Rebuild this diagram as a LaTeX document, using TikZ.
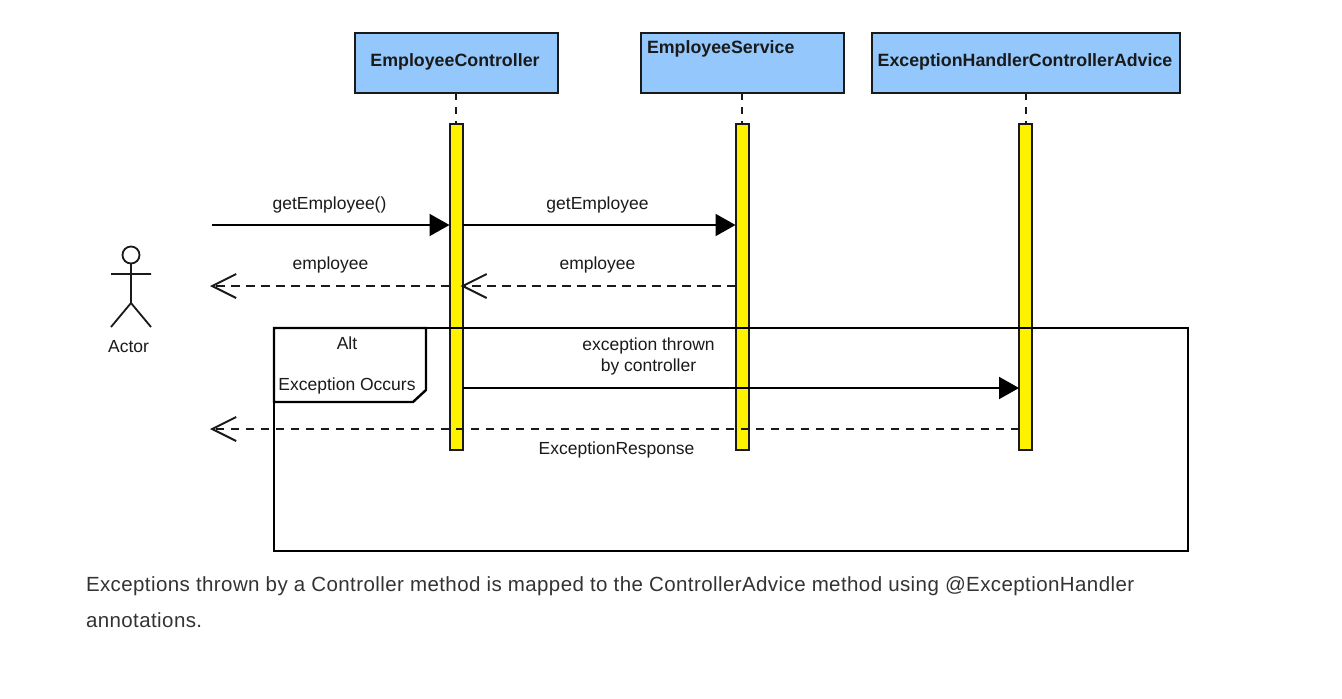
\documentclass[tikz,border=0pt]{standalone}
\usepackage{fontspec}
\setmainfont{Liberation Sans}
\usetikzlibrary{arrows.meta,calc}
\definecolor{boxblue}{HTML}{94C8FC}
\definecolor{ink}{HTML}{1A1A1A}
\definecolor{captionink}{HTML}{333333}
\newfontfamily\capfont[LetterSpace=2.0]{Liberation Sans}
\tikzset{
  x=1pt,y=-1pt,
  every node/.style={inner sep=0pt,outer sep=0pt,text=ink},
  head/.style={draw=ink,fill=boxblue,line width=2pt,rectangle,anchor=north west},
  headtxt/.style={font=\fontsize{17.8}{20}\selectfont\bfseries},
  bar/.style={draw=ink,fill=yellow,line width=2pt,rectangle,anchor=north west,minimum width=13pt,minimum height=326pt},
  lifeline/.style={draw=ink,line width=2pt,dash pattern=on 7pt off 7pt},
  msg/.style={draw=black,line width=2pt,-{Triangle[length=20pt,width=22pt]}},
  ret/.style={draw=ink,line width=2pt,dash pattern=on 8.5pt off 6.5pt,shorten >=-2pt,-{Straight Barb[length=24pt,width=24pt,line width=2pt]}},
  lab/.style={font=\fontsize{17.5}{20}\selectfont},
  captxt/.style={font=\capfont\fontsize{20.5}{36}\selectfont,text=captionink,anchor=base west},
}
\begin{document}
\begin{tikzpicture}
\useasboundingbox (0,0) rectangle (1342,699);
\fill[white] (0,0) rectangle (1342,699);
% headers
\node[head,minimum width=203pt,minimum height=60pt] (ec) at (355,33) {};
\node[head,minimum width=203pt,minimum height=60pt] (es) at (641,33) {};
\node[head,minimum width=308.5pt,minimum height=60pt] (eh) at (871.5,33) {};
\node[headtxt] (ect) at (455,61.5) {EmployeeController};
\node[headtxt,anchor=west] (est) at (647,48.5) {EmployeeService};
\node[headtxt] (eht) at (1025,61.5) {ExceptionHandlerControllerAdvice};
% activation bars
\node[bar] (b1) at (449.5,124) {};
\node[bar] (b2) at (735.5,124) {};
\node[bar] (b3) at (1019,124) {};
\draw[lifeline] (ec.south -| b1.north) -- (b1.north);
\draw[lifeline] (es.south -| b2.north) -- (b2.north);
\draw[lifeline] (eh.south -| b3.north) -- (b3.north);
% frame
\node[draw=black,line width=2.4pt,rectangle,anchor=north west,minimum width=914pt,minimum height=223pt] (frame) at (274,328) {};
\draw[draw=black,line width=2.4pt,fill=white] (frame.north west) -- (426,328) -- (426,390) -- (413,402) -- (274,402) -- cycle;
\node[lab] (alt) at (347,343.5) {Alt};
\node[lab] (occ) at (347,385.5) {Exception Occurs};
% actor
\coordinate (start) at (212,225);
\coordinate (back1) at (212,286);
\coordinate (back2) at (212,429);
\draw[draw=ink,line width=1.8pt] (131,255) circle (8.5);
\draw[draw=ink,line width=1.8pt] (131,263.5) -- (131,303) (111,274) -- (151,274) (111,327) -- (131,303) -- (151,327);
\node[lab] (actor) at (128.5,346.5) {Actor};
% messages
\draw[msg] (start) -- (start -| b1.west);
\draw[msg] (start -| b1.east) -- (start -| b2.west);
\draw[msg] (463,388) -- (1019,388);
\draw[ret] (back1 -| b1.west) -- (back1);
\draw[ret] (back1 -| b2.west) -- (back1 -| b1.east);
\draw[ret] (back2 -| b3.west) -- (back2);
% labels
\node[lab] (l1) at (329.5,204.5) {getEmployee()};
\node[lab] (l2) at (597.5,204.5) {getEmployee};
\node[lab] (l3) at (330.5,265) {employee};
\node[lab] (l4) at (597.5,265) {employee};
\node[lab] (l5) at (648.5,346) {exception thrown};
\node[lab] (l6) at (648.5,367) {by controller};
\node[lab] (l7) at (616.5,449.5) {ExceptionResponse};
% caption
\node[captxt] (c1) at (86,591) {Exceptions thrown by a Controller method is mapped to the ControllerAdvice method using @ExceptionHandler};
\node[captxt] (c2) at (86,627) {annotations.};
\end{tikzpicture}
\end{document}
